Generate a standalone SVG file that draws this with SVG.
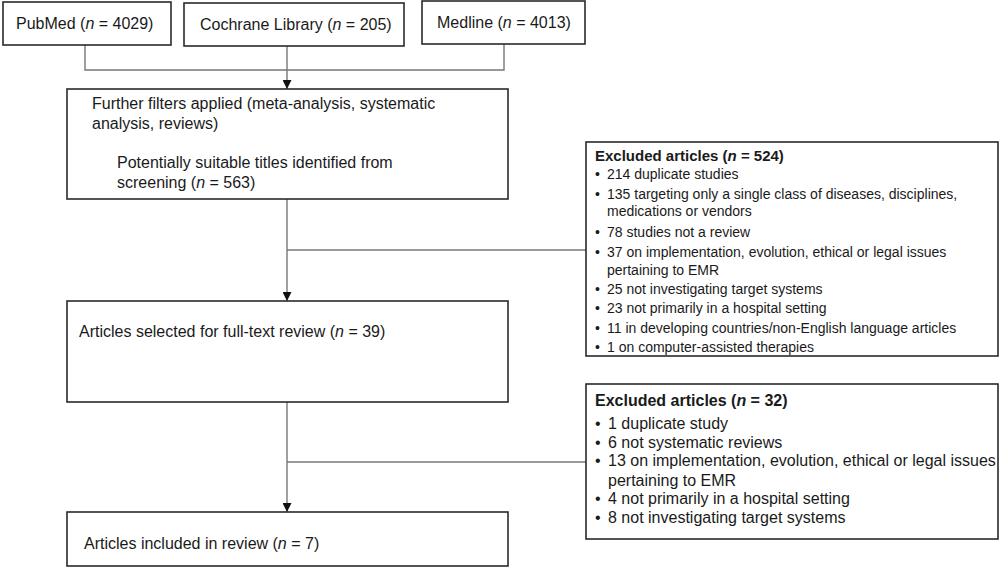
<svg xmlns="http://www.w3.org/2000/svg" width="1000" height="567" viewBox="0 0 1000 567">
<defs>
<marker id="arr" viewBox="0 0 10 10" refX="10" refY="5" markerWidth="9" markerHeight="9" markerUnits="userSpaceOnUse" orient="auto">
<path d="M0,0 L10,5 L0,10 Z" fill="#111"/>
</marker>
</defs>
<style>
.box{fill:#fff;stroke:#2a2a2a;stroke-width:1.6}
.t{font-family:"Liberation Sans",Arial,sans-serif;font-size:16px;fill:#1a1a1a}
.s{font-family:"Liberation Sans",Arial,sans-serif;font-size:14px;fill:#1a1a1a}
.s2{font-family:"Liberation Sans",Arial,sans-serif;font-size:16px;fill:#1a1a1a}
.b{font-weight:bold}
.i{font-style:italic}
.c{fill:none;stroke:#777;stroke-width:1.4}
</style>
<rect width="1000" height="567" fill="#fff"/>
<g id="connectors">
<polyline class="c" points="85,45 85,70 504,70 504,44"/>
<line class="c" x1="287" y1="46" x2="287" y2="89" marker-end="url(#arr)"/>
<line class="c" x1="287" y1="199" x2="287" y2="301" marker-end="url(#arr)"/>
<line class="c" x1="287" y1="250" x2="586" y2="250"/>
<line class="c" x1="287" y1="402" x2="287" y2="512" marker-end="url(#arr)"/>
<line class="c" x1="287" y1="462" x2="586" y2="462"/>
</g>
<g id="pubmed">
<rect class="box" x="3" y="2" width="168" height="43"/>
<text class="t" x="16" y="29">PubMed (<tspan class="i">n</tspan> = 4029)</text>
</g>
<g id="cochrane">
<rect class="box" x="184" y="3" width="220" height="43"/>
<text class="t" x="200" y="30">Cochrane Library (<tspan class="i">n</tspan> = 205)</text>
</g>
<g id="medline">
<rect class="box" x="422" y="1" width="163" height="43"/>
<text class="t" x="437" y="28">Medline (<tspan class="i">n</tspan> = 4013)</text>
</g>
<g id="filters">
<rect class="box" x="67" y="89" width="441" height="110"/>
<text class="t" x="92" y="109">Further filters applied (meta-analysis, systematic</text>
<text class="t" x="92" y="129">analysis, reviews)</text>
<text class="t" x="117" y="168">Potentially suitable titles identified from</text>
<text class="t" x="117" y="188">screening (<tspan class="i">n</tspan> = 563)</text>
</g>
<g id="excluded1">
<rect class="box" x="586" y="142" width="412" height="214"/>
<text class="s b" x="595" y="161" style="font-size:15px">Excluded articles (<tspan class="i">n</tspan> = 524)</text>
<text class="s" x="595" y="179">•</text><text class="s" x="607" y="179">214 duplicate studies</text>
<text class="s" x="595" y="199">•</text><text class="s" x="607" y="199">135 targeting only a single class of diseases, disciplines,</text>
<text class="s" x="607" y="216">medications or vendors</text>
<text class="s" x="595" y="237">•</text><text class="s" x="607" y="237">78 studies not a review</text>
<text class="s" x="595" y="257">•</text><text class="s" x="607" y="257">37 on implementation, evolution, ethical or legal issues</text>
<text class="s" x="607" y="275">pertaining to EMR</text>
<text class="s" x="595" y="294">•</text><text class="s" x="607" y="294">25 not investigating target systems</text>
<text class="s" x="595" y="313">•</text><text class="s" x="607" y="313">23 not primarily in a hospital setting</text>
<text class="s" x="595" y="333">•</text><text class="s" x="607" y="333">11 in developing countries/non-English language articles</text>
<text class="s" x="595" y="352">•</text><text class="s" x="607" y="352">1 on computer-assisted therapies</text>
</g>
<g id="selected">
<rect class="box" x="67" y="301" width="441" height="101"/>
<text class="t" x="79" y="337">Articles selected for full-text review (<tspan class="i">n</tspan> = 39)</text>
</g>
<g id="excluded2">
<rect class="box" x="586" y="384" width="412" height="155"/>
<text class="s2 b" x="595" y="406">Excluded articles (<tspan class="i">n</tspan> = 32)</text>
<text class="s2" x="595" y="429">•</text><text class="s2" x="608" y="429">1 duplicate study</text>
<text class="s2" x="595" y="448">•</text><text class="s2" x="608" y="448">6 not systematic reviews</text>
<text class="s2" x="595" y="466">•</text><text class="s2" x="608" y="466">13 on implementation, evolution, ethical or legal issues</text>
<text class="s2" x="608" y="486">pertaining to EMR</text>
<text class="s2" x="595" y="504">•</text><text class="s2" x="608" y="504">4 not primarily in a hospital setting</text>
<text class="s2" x="595" y="523">•</text><text class="s2" x="608" y="523">8 not investigating target systems</text>
</g>
<g id="included">
<rect class="box" x="67" y="512" width="441" height="54"/>
<text class="t" x="84" y="549">Articles included in review (<tspan class="i">n</tspan> = 7)</text>
</g>
</svg>
